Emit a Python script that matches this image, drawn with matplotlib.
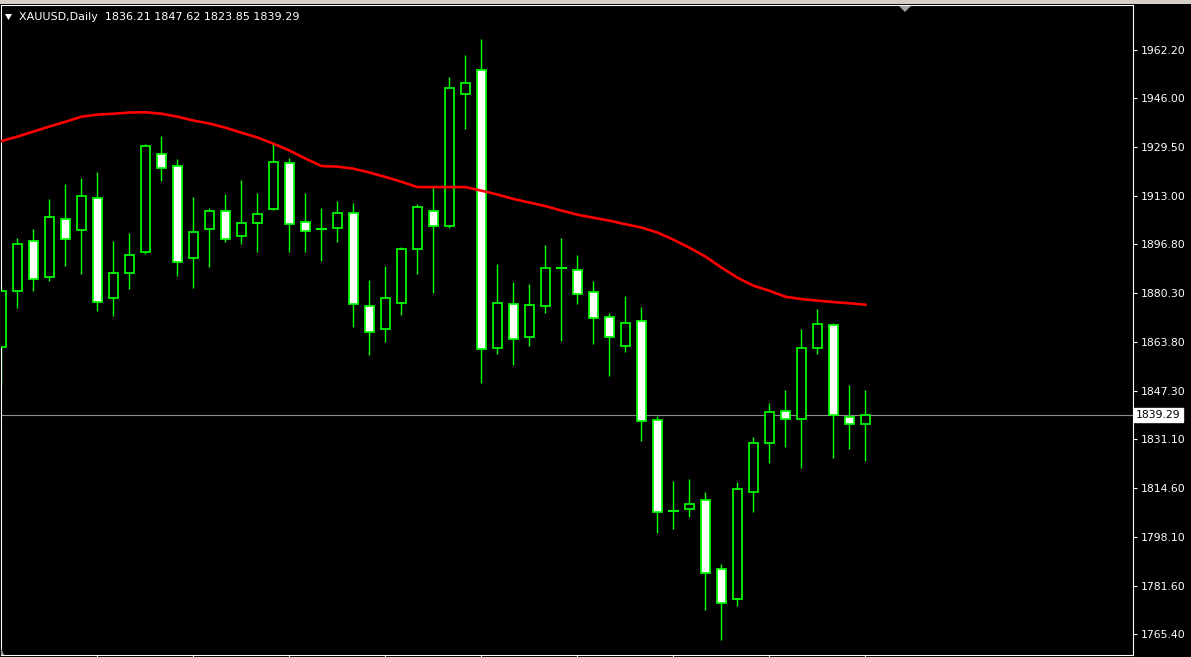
import matplotlib
matplotlib.use("Agg")
import matplotlib.pyplot as plt
from matplotlib.patches import Polygon, Rectangle
import numpy as np

# ---------------- data ----------------
opens  = [1862.2, 1880.9, 1897.8, 1885.7, 1905.2, 1901.5, 1912.3, 1878.6, 1887.0, 1894.1,
          1927.1, 1923.0, 1892.1, 1901.8, 1907.9, 1899.5, 1903.8, 1908.6, 1924.0, 1904.2,
          1901.8, 1902.2, 1907.2, 1875.9, 1868.2, 1876.9, 1895.1, 1907.9, 1902.8, 1947.3,
          1955.4, 1861.8, 1876.6, 1865.5, 1875.9, 1888.6, 1888.0, 1880.6, 1872.2, 1862.4,
          1870.8, 1837.5, 1806.9, 1807.5, 1810.6, 1787.3, 1777.2, 1813.3, 1829.8, 1840.5,
          1837.8, 1861.8, 1869.5, 1838.5, 1836.21]
highs  = [1882.7, 1898.9, 1901.9, 1912.0, 1917.1, 1918.8, 1921.1, 1897.9, 1900.6, 1930.5,
          1933.2, 1925.2, 1912.7, 1908.7, 1913.7, 1918.4, 1914.0, 1931.1, 1925.8, 1914.0,
          1908.7, 1911.3, 1910.7, 1884.7, 1889.5, 1895.8, 1910.3, 1916.4, 1952.8, 1960.5,
          1965.6, 1890.1, 1884.1, 1883.4, 1896.5, 1898.9, 1893.2, 1884.4, 1873.6, 1879.4,
          1875.7, 1838.9, 1817.1, 1817.7, 1813.4, 1789.1, 1816.7, 1831.9, 1843.3, 1847.7,
          1868.3, 1875.0, 1870.2, 1849.4, 1847.62]
lows   = [1849.4, 1875.1, 1880.8, 1884.2, 1889.2, 1886.5, 1874.1, 1872.4, 1881.5, 1893.3,
          1917.8, 1885.9, 1881.8, 1888.9, 1897.3, 1896.6, 1893.9, 1908.1, 1893.9, 1893.9,
          1890.9, 1897.3, 1868.7, 1859.3, 1863.6, 1872.7, 1886.5, 1880.1, 1902.0, 1935.4,
          1849.8, 1859.7, 1855.9, 1862.4, 1873.5, 1864.1, 1876.6, 1863.1, 1852.3, 1860.3,
          1830.3, 1799.3, 1800.7, 1804.7, 1773.4, 1763.3, 1774.8, 1806.4, 1822.9, 1828.3,
          1821.2, 1859.6, 1824.6, 1827.9, 1823.85]
closes = [1881.0, 1896.8, 1885.0, 1905.9, 1898.5, 1912.9, 1877.2, 1887.0, 1893.1, 1929.8,
          1922.4, 1890.7, 1900.8, 1907.9, 1898.5, 1903.8, 1906.9, 1924.4, 1903.5, 1901.1,
          1901.8, 1907.2, 1876.6, 1867.1, 1878.6, 1895.1, 1909.2, 1902.8, 1949.3, 1951.0,
          1861.4, 1876.9, 1864.8, 1876.2, 1888.7, 1888.5, 1879.9, 1871.9, 1865.5, 1870.2,
          1837.2, 1806.5, 1806.9, 1809.2, 1786.0, 1775.9, 1814.3, 1829.8, 1840.2, 1837.8,
          1861.8, 1869.8, 1839.2, 1836.2, 1839.29]
ma_values = [1931.4, 1932.9, 1934.6, 1936.3, 1937.9, 1939.6, 1940.3, 1940.6, 1941.0, 1941.1,
             1940.6, 1939.6, 1938.3, 1937.3, 1935.9, 1934.2, 1932.6, 1930.5, 1928.2, 1925.5,
             1923.0, 1922.8, 1922.1, 1920.8, 1919.3, 1917.7, 1915.9, 1915.9, 1915.9, 1915.9,
             1914.7, 1913.4, 1911.9, 1910.7, 1909.5, 1908.0, 1906.6, 1905.6, 1904.6, 1903.4,
             1902.3, 1900.6, 1898.2, 1895.5, 1892.5, 1888.8, 1885.4, 1882.7, 1881.0, 1879.0,
             1878.2, 1877.7, 1877.2, 1876.8, 1876.3]
price_ticks = [1962.20, 1946.00, 1929.50, 1913.00, 1896.80, 1880.30, 1863.80,
               1847.30, 1831.10, 1814.60, 1798.10, 1781.60, 1765.40]
price_tick_labels = ["1962.20", "1946.00", "1929.50", "1913.00", "1896.80", "1880.30", "1863.80",
                     "1847.30", "1831.10", "1814.60", "1798.10", "1781.60", "1765.40"]
current_price = 1839.29
symbol_title = "XAUUSD,Daily  1836.21 1847.62 1823.85 1839.29"

# ---------------- figure ----------------
W, H = 1191, 657
fig = plt.figure(figsize=(W / 100, H / 100), dpi=100, facecolor="black")
ax = fig.add_axes([1 / W, 2 / H, 1132 / W, 650 / H], facecolor="black")

GREEN = "#00ff00"
n = len(opens)
x = np.arange(n)

# wicks
ax.vlines(x, lows, highs, color=GREEN, linewidth=1.0, zorder=2)

# bodies
for i in range(n):
    o, c = opens[i], closes[i]
    if abs(c - o) < 0.15:
        ax.hlines(o, i - 0.34, i + 0.34, color=GREEN, linewidth=1.5, zorder=3)
        continue
    face = "black" if c > o else "white"
    ax.bar(i, abs(c - o), bottom=min(o, c), width=0.62, facecolor=face,
           edgecolor=GREEN, linewidth=1.25, zorder=3)

# moving average
ax.plot(x, ma_values, color="#ff0000", linewidth=1.9, zorder=4)

# current price line
ax.axhline(current_price, color="#8c8c8c", linewidth=0.8, zorder=1)

# axes limits
ax.set_xlim(-0.03, -0.03 + 1132 / 16)
ax.set_ylim(1758.4, 1977.2)

# spines
for s in ax.spines.values():
    s.set_color("white")
    s.set_linewidth(0.8)

# ticks
ax.yaxis.tick_right()
ax.set_yticks(price_ticks)
ax.set_yticklabels(price_tick_labels)
ax.tick_params(axis="y", colors="white", direction="out", length=3, width=0.8,
               pad=2.5, labelsize=7.8, labelcolor="white")
ax.set_xticks(np.arange(6, n, 6))
ax.set_xticklabels([])
ax.tick_params(axis="x", colors="white", direction="out", length=2.5, width=0.8)

# current price label box
ax.text(1.0 + 3 / 1132, current_price, "1839.29", transform=ax.get_yaxis_transform(),
        ha="left", va="center", fontsize=7.8, color="black", zorder=6,
        bbox=dict(boxstyle="square,pad=0.18", facecolor="white", edgecolor="white"),
        clip_on=False)

# title
fig.text(19 / W, 1 - 17.5 / H, symbol_title, color="white", fontsize=7.98,
         family=["DejaVu Sans"], ha="left", va="center")

# top strip and markers (figure pixel coordinates)
def px(xp, yp):
    return (xp / W, 1 - yp / H)

fig.patches.append(Rectangle((0, 1 - 4 / H), 1, 4 / H, transform=fig.transFigure,
                             facecolor="#d4d0c8", edgecolor="none", zorder=0))
fig.patches.append(Polygon([px(5, 14), px(12, 14), px(8.5, 20)], closed=True,
                           transform=fig.transFigure, facecolor="white", edgecolor="none"))
fig.patches.append(Polygon([px(899, 6), px(911, 6), px(905, 12)], closed=True,
                           transform=fig.transFigure, facecolor="#a0a0a8", edgecolor="none"))
fig.patches.append(Polygon([px(1, 648), px(1, 655), px(4, 655)], closed=True,
                           transform=fig.transFigure, facecolor="#a0a0a8", edgecolor="none"))

fig.savefig("out.png", dpi=100, facecolor="black")
